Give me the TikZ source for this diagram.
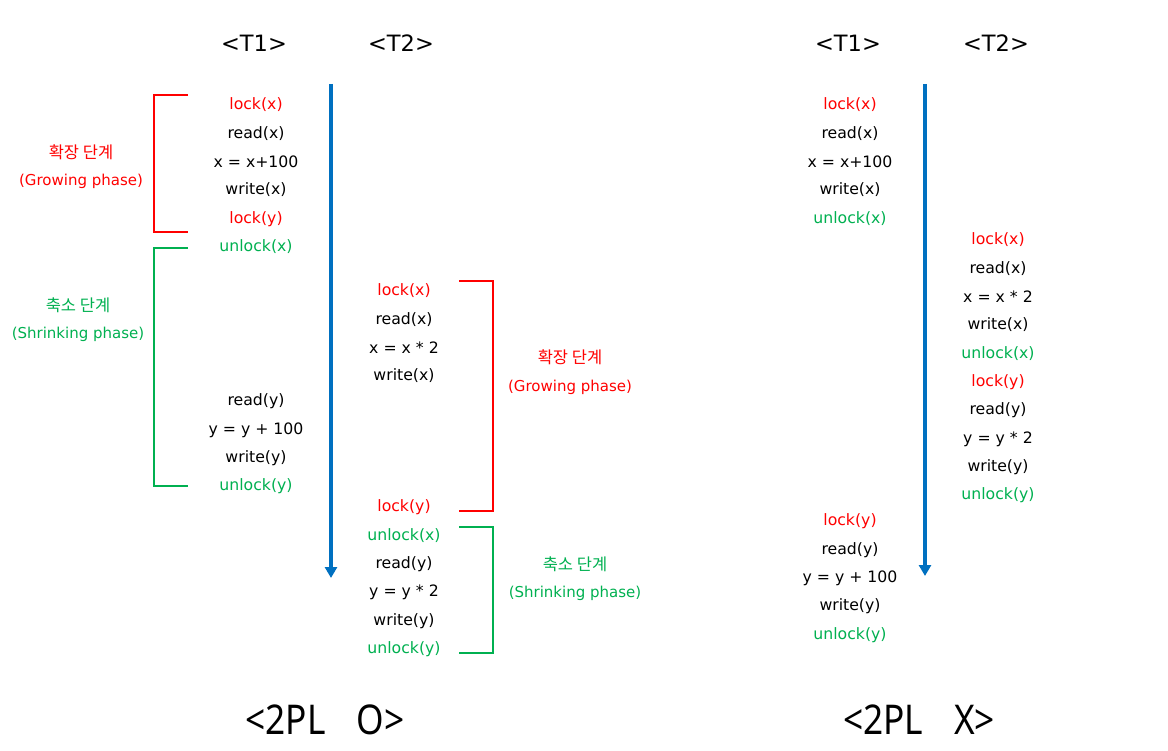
\documentclass[tikz,border=0pt]{standalone}
\usepackage{fontspec}
\setmainfont{DejaVu Sans}
\newfontfamily\kr{Noto Sans CJK KR}
\newfontfamily\ns{Noto Sans}
\usetikzlibrary{arrows.meta}
\definecolor{lred}{HTML}{FF0000}
\definecolor{lgreen}{HTML}{00B050}
\definecolor{lblue}{HTML}{0070C0}
\tikzset{
  op/.style={font=\fontsize{15.7}{18}\selectfont, inner sep=0pt, anchor=center, yshift=-1pt},
  lk/.style={op, text=lred},
  ul/.style={op, text=lgreen},
  hd/.style={font=\fontsize{22.5}{26}\selectfont, inner sep=0pt},
  ft/.style={font=\ns\fontsize{41}{44}\selectfont, inner sep=0pt},
  lbl/.style={font=\fontsize{15}{18}\selectfont, inner sep=0pt},
  klbl/.style={font=\kr\fontsize{16.5}{18}\selectfont, inner sep=0pt},
  timeline/.style={line width=3.5pt, draw=lblue, -{Triangle[width=12pt,length=11pt]}},
  rbr/.style={draw=lred, line width=1.6pt},
  gbr/.style={draw=lgreen, line width=1.6pt}
}
\begin{document}
\begin{tikzpicture}[x=1pt,y=-1pt]
\useasboundingbox (0,0) rectangle (1168,751);
% ---------- left schedule ----------
\node[hd] (h1) at (254,43) {<T1>};
\node[hd] (h2) at (401,43) {<T2>};
\coordinate (a1s) at (331,84);
\coordinate (a1e) at (331,578);
\draw[timeline] (a1s) -- (a1e);

\node[lk] (l1) at (256,104) {lock(x)};
\node[op] (l2) at (256,133) {read(x)};
\node[op] (l3) at (256,161) {x = x+100};
\node[op] (l4) at (256,189) {write(x)};
\node[lk] (l5) at (256,218) {lock(y)};
\node[ul] (l6) at (256,246) {unlock(x)};
\node[op] (l7) at (256,400) {read(y)};
\node[op] (l8) at (256,429) {y = y + 100};
\node[op] (l9) at (256,457) {write(y)};
\node[ul] (l10) at (256,485) {unlock(y)};

\coordinate (rb1a) at (188,95);
\coordinate (rb1b) at (154,95);
\coordinate (rb1c) at (154,232);
\coordinate (rb1d) at (188,232);
\draw[rbr] (rb1a) -- (rb1b) -- (rb1c) -- (rb1d);
\coordinate (gb1a) at (188,248);
\coordinate (gb1b) at (154,248);
\coordinate (gb1c) at (154,486);
\coordinate (gb1d) at (188,486);
\draw[gbr] (gb1a) -- (gb1b) -- (gb1c) -- (gb1d);
\node[klbl,text=lred] (g1k) at (81,152) {확장 단계};
\node[lbl,text=lred] (g1e) at (81,181) {(Growing phase)};
\node[klbl,text=lgreen] (s1k) at (78,305) {축소 단계};
\node[lbl,text=lgreen] (s1e) at (78,334) {(Shrinking phase)};

\node[lk] (m1) at (404,290) {lock(x)};
\node[op] (m2) at (404,319) {read(x)};
\node[op] (m3) at (404,347) {x = x * 2};
\node[op] (m4) at (404,375) {write(x)};
\node[lk] (m5) at (404,506) {lock(y)};
\node[ul] (m6) at (404,535) {unlock(x)};
\node[op] (m7) at (404,563) {read(y)};
\node[op] (m8) at (404,591) {y = y * 2};
\node[op] (m9) at (404,620) {write(y)};
\node[ul] (m10) at (404,648) {unlock(y)};

\coordinate (rb2a) at (459,281);
\coordinate (rb2b) at (493,281);
\coordinate (rb2c) at (493,511);
\coordinate (rb2d) at (459,511);
\draw[rbr] (rb2a) -- (rb2b) -- (rb2c) -- (rb2d);
\coordinate (gb2a) at (459,527);
\coordinate (gb2b) at (493,527);
\coordinate (gb2c) at (493,653);
\coordinate (gb2d) at (459,653);
\draw[gbr] (gb2a) -- (gb2b) -- (gb2c) -- (gb2d);
\node[klbl,text=lred] (g2k) at (570,357) {확장 단계};
\node[lbl,text=lred] (g2e) at (570,387) {(Growing phase)};
\node[klbl,text=lgreen] (s2k) at (575,564) {축소 단계};
\node[lbl,text=lgreen] (s2e) at (575,593) {(Shrinking phase)};

\node[ft] (f1) at (325,720) {\scalebox{0.86}[1]{<2PL\hspace{36pt}O>}};

% ---------- right schedule ----------
\node[hd] (h3) at (848,43) {<T1>};
\node[hd] (h4) at (996,43) {<T2>};
\coordinate (a2s) at (925,84);
\coordinate (a2e) at (925,576);
\draw[timeline] (a2s) -- (a2e);

\node[lk] (p1) at (850,104) {lock(x)};
\node[op] (p2) at (850,133) {read(x)};
\node[op] (p3) at (850,161) {x = x+100};
\node[op] (p4) at (850,189) {write(x)};
\node[ul] (p5) at (850,218) {unlock(x)};
\node[lk] (p6) at (850,520) {lock(y)};
\node[op] (p7) at (850,549) {read(y)};
\node[op] (p8) at (850,577) {y = y + 100};
\node[op] (p9) at (850,605) {write(y)};
\node[ul] (p10) at (850,634) {unlock(y)};

\node[lk] (q1) at (998,239) {lock(x)};
\node[op] (q2) at (998,268) {read(x)};
\node[op] (q3) at (998,296) {x = x * 2};
\node[op] (q4) at (998,324) {write(x)};
\node[ul] (q5) at (998,353) {unlock(x)};
\node[lk] (q6) at (998,381) {lock(y)};
\node[op] (q7) at (998,409) {read(y)};
\node[op] (q8) at (998,438) {y = y * 2};
\node[op] (q9) at (998,466) {write(y)};
\node[ul] (q10) at (998,494) {unlock(y)};

\node[ft] (f2) at (919,720) {\scalebox{0.86}[1]{<2PL\hspace{36pt}X>}};
\end{tikzpicture}
\end{document}
